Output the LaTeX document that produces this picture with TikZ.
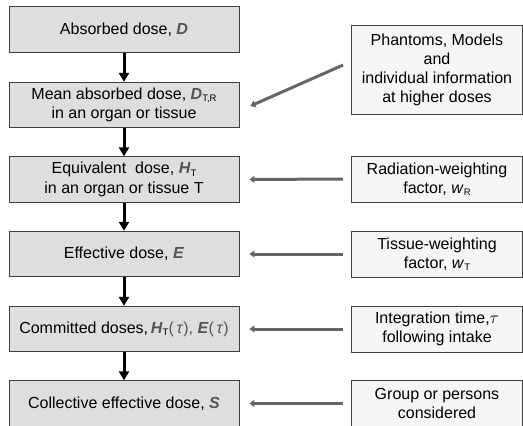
\documentclass[tikz,border=0pt]{standalone}
\usepackage{fontspec}
\setmainfont{Liberation Sans}
\usetikzlibrary{arrows.meta,calc}
\definecolor{lfill}{HTML}{DEDEDE}
\definecolor{rfill}{HTML}{F5F5F5}
\definecolor{bord}{HTML}{404040}
\definecolor{garrow}{HTML}{666666}
\definecolor{qty}{HTML}{555555}
\newcommand{\qv}[1]{\textcolor{qty}{\textbf{\textit{#1}}}}
\newcommand{\lowsub}[1]{\raisebox{-0.3ex}{\fontsize{9.5}{9.5}\selectfont #1}}
\begin{document}
\begin{tikzpicture}[x=1pt,y=-1pt,
  lbox/.style={draw=bord,line width=0.8pt,fill=lfill,minimum width=230pt,minimum height=45.5pt,inner sep=0pt,align=center,font=\fontsize{16}{19.5}\selectfont},
  rbox/.style={draw=bord,line width=0.8pt,fill=rfill,minimum width=171pt,inner sep=0pt,align=center,font=\fontsize{16}{19}\selectfont},
  darr/.style={-{Triangle[length=9pt,width=10pt]},line width=3pt,black},
  garr/.style={-{Triangle[length=5pt,width=7pt]},line width=3pt,garrow}]
\useasboundingbox (0,0) rectangle (523,426);
\clip (0,0) rectangle (523,426);
\node[lbox] (L1) at (124,29.5) {Absorbed dose, \qv{D}};
\node[lbox] (L2) at (124,105) {Mean absorbed dose, \qv{D}\lowsub{T,R}\\in an organ or tissue};
\node[lbox] (L3) at (124,179.5) {Equivalent\ \ dose, \qv{H}\lowsub{T}\\in an organ or tissue T};
\node[lbox] (L4) at (124,254) {Effective dose, \qv{E}};
\node[lbox] (L5) at (124,329) {Committed doses,\,\qv{H}\lowsub{T}\textcolor{qty}{(\,\textit{τ}),} \qv{E}\textcolor{qty}{(\,\textit{τ})}};
\node[lbox] (L6) at (124,403.5) {Collective effective dose, \qv{S}};
\node[rbox,minimum height=89pt] (R1) at (437,69.5) {Phantoms, Models\\and\\individual information\\at higher doses};
\node[rbox,minimum height=46pt] (R2) at (437,179) {Radiation-weighting\\factor, \textit{w}\lowsub{R}};
\node[rbox,minimum height=46pt] (R3) at (437,254) {Tissue-weighting\\factor, \textit{w}\lowsub{T}};
\node[rbox,minimum height=46pt] (R4) at (437,329) {Integration time,$\tau$\\following intake};
\node[rbox,minimum height=46pt] (R5) at (437,403.5) {Group or persons\\considered};
\foreach \a/\b in {L1/L2,L2/L3,L3/L4,L4/L5,L5/L6}
  \draw[darr] (\a.south) -- (\b.north);
\coordinate (d1) at ($(R1.west)+(-8,-4.5)$);
\coordinate (d2) at ($(L2.east)+(11,1)$);
\draw[garr] (d1) -- (d2);
\foreach \r/\l in {R2/L3,R3/L4,R4/L5,R5/L6}
  \draw[garr] ($(\r.west)+(-8,0)$) -- ($(\l.east)+(10,0)$);
\end{tikzpicture}
\end{document}
